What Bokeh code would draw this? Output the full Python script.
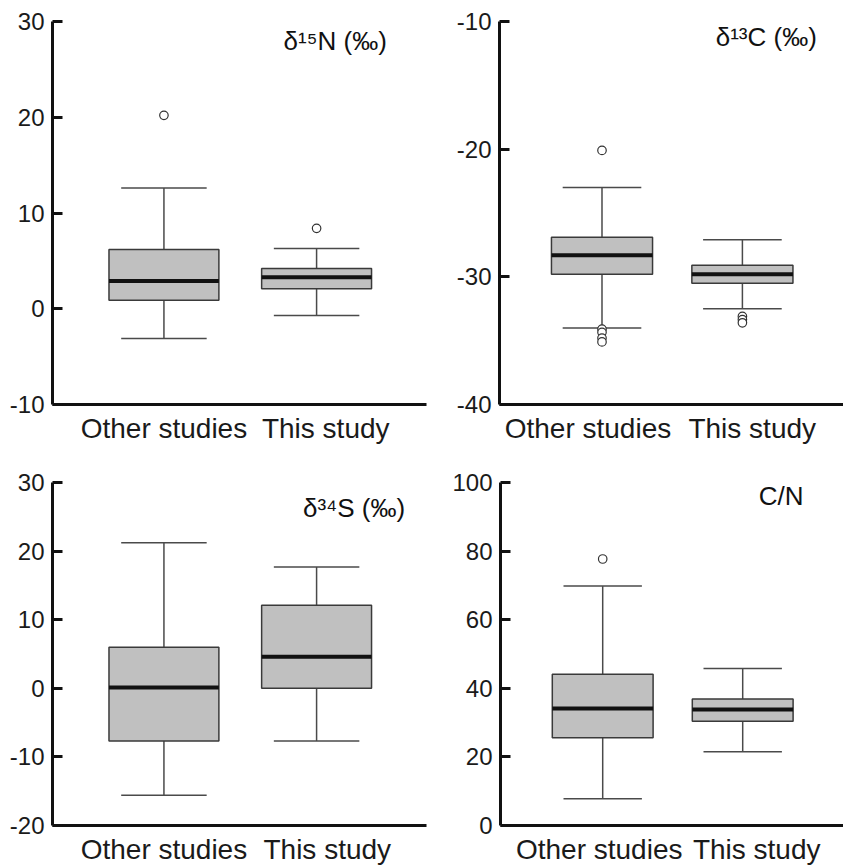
import numpy as np
from bokeh.plotting import figure
from bokeh.models import Range1d, FixedTicker, Label
from bokeh.layouts import column, row
from bokeh.embed import file_html
from bokeh.resources import INLINE

# ---------------- data ----------------
groups = ["Other studies", "This study"]

d15n_low = [-3.1, -0.7]
d15n_q1 = [0.9, 2.1]
d15n_med = [2.9, 3.3]
d15n_q3 = [6.2, 4.2]
d15n_high = [12.6, 6.3]
d15n_out = [[20.2], [8.4]]
d15n_ticks = [-10, 0, 10, 20, 30]

d13c_low = [-34.0, -32.5]
d13c_q1 = [-29.8, -30.5]
d13c_med = [-28.3, -29.8]
d13c_q3 = [-26.9, -29.1]
d13c_high = [-23.0, -27.1]
d13c_out = [[-20.1, -34.1, -34.35, -34.8, -35.1], [-33.1, -33.35, -33.6]]
d13c_ticks = [-40, -30, -20, -10]

d34s_low = [-15.6, -7.7]
d34s_q1 = [-7.7, 0.0]
d34s_med = [0.1, 4.6]
d34s_q3 = [6.0, 12.1]
d34s_high = [21.2, 17.7]
d34s_out = [[], []]
d34s_ticks = [-20, -10, 0, 10, 20, 30]

cn_low = [7.8, 21.5]
cn_q1 = [25.6, 30.4]
cn_med = [34.1, 33.8]
cn_q3 = [44.1, 36.9]
cn_high = [69.8, 45.8]
cn_out = [[77.7], []]
cn_ticks = [0, 20, 40, 60, 80, 100]

FONT = "Liberation Sans"
BOX_W = 0.72
CAP_W = 0.56


def panel(width, height, mb, yr, ticks, low, q1, med, q3, high, outs, title, tx, ty, label_shift):
    p = figure(width=width, height=height, output_backend="svg", toolbar_location=None,
               x_range=Range1d(0.27, 2.72), y_range=Range1d(*yr),
               min_border_left=mb[0], min_border_right=mb[1],
               min_border_top=mb[2], min_border_bottom=mb[3])
    p.outline_line_color = None
    p.grid.visible = False
    p.background_fill_color = "white"
    p.border_fill_color = "white"

    pos = np.arange(1, len(groups) + 1, dtype=float)
    low = np.array(low); q1 = np.array(q1); med = np.array(med)
    q3 = np.array(q3); high = np.array(high)

    # whiskers
    wc = "#4a4a4a"
    p.segment(x0=pos, y0=q3, x1=pos, y1=high, line_color=wc, line_width=1.5)
    p.segment(x0=pos, y0=q1, x1=pos, y1=low, line_color=wc, line_width=1.5)
    p.segment(x0=pos - CAP_W / 2, y0=high, x1=pos + CAP_W / 2, y1=high, line_color=wc, line_width=1.5)
    p.segment(x0=pos - CAP_W / 2, y0=low, x1=pos + CAP_W / 2, y1=low, line_color=wc, line_width=1.5)
    # boxes
    p.vbar(x=pos, bottom=q1, top=q3, width=BOX_W, fill_color="#c0c0c0",
           line_color="#3a3a3a", line_width=1.5)
    # medians
    p.segment(x0=pos - BOX_W / 2, y0=med, x1=pos + BOX_W / 2, y1=med, line_color="#111111", line_width=4)
    # outliers
    ox, oy = [], []
    for i, vals in enumerate(outs):
        for v in vals:
            ox.append(pos[i]); oy.append(v)
    if ox:
        p.scatter(x=ox, y=oy, marker="circle", size=8.5, fill_color="white",
                  line_color="#333333", line_width=1.2)

    lab = Label(x=tx, y=ty, text=title, text_align="right", text_baseline="middle",
                text_font=FONT, text_font_size="26px", text_color="#111111")
    p.add_layout(lab)

    # y axis
    p.yaxis.ticker = FixedTicker(ticks=ticks)
    p.yaxis.major_label_overrides = {t: str(t) for t in ticks}
    p.yaxis.minor_tick_line_color = None
    p.yaxis.major_tick_in = 10
    p.yaxis.major_tick_out = 0
    p.yaxis.major_tick_line_width = 3
    p.yaxis.major_tick_line_color = "#111111"
    p.yaxis.axis_line_width = 3
    p.yaxis.axis_line_color = "#111111"
    p.yaxis.major_label_text_font = FONT
    p.yaxis.major_label_text_font_size = "24px"
    p.yaxis.major_label_text_color = "#1a1a1a"
    p.yaxis.major_label_standoff = 8

    # x axis: group names (label positions nudged as in the original figure)
    lpos = [float(pos[i]) + label_shift[i] for i in range(len(groups))]
    p.xaxis.ticker = FixedTicker(ticks=lpos)
    p.xaxis.major_label_overrides = {lp: g for lp, g in zip(lpos, groups)}
    p.xaxis.major_tick_line_color = None
    p.xaxis.minor_tick_line_color = None
    p.xaxis.axis_line_width = 3
    p.xaxis.axis_line_color = "#111111"
    p.xaxis.major_label_text_font = FONT
    p.xaxis.major_label_text_font_size = "28px"
    p.xaxis.major_label_text_color = "#1a1a1a"
    p.xaxis.major_label_standoff = 2
    return p


p1 = panel(430, 447, (52, 4, 21, 43), (-10, 30), d15n_ticks, d15n_low, d15n_q1, d15n_med,
           d15n_q3, d15n_high, d15n_out, "δ¹⁵N (‰)", 2.46, 28.0, (0.0, 0.06))
p2 = panel(413, 447, (69, 0, 20, 43), (-40, -10), d13c_ticks, d13c_low, d13c_q1, d13c_med,
           d13c_q3, d13c_high, d13c_out, "δ¹³C (‰)", 2.53, -11.2, (-0.1, 0.07))
p3 = panel(430, 420, (52, 4, 35, 42), (-20, 30), d34s_ticks, d34s_low, d34s_q1, d34s_med,
           d34s_q3, d34s_high, d34s_out, "δ³⁴S (‰)", 2.58, 26.3, (0.0, 0.07))
p4 = panel(413, 420, (70, 0, 35, 42), (0, 100), cn_ticks, cn_low, cn_q1, cn_med,
           cn_q3, cn_high, cn_out, "C/N", 2.435, 96.1, (-0.025, 0.1))

layout = column(row(p1, p2), row(p3, p4))
open("out.html", "w").write(file_html(layout, INLINE))
